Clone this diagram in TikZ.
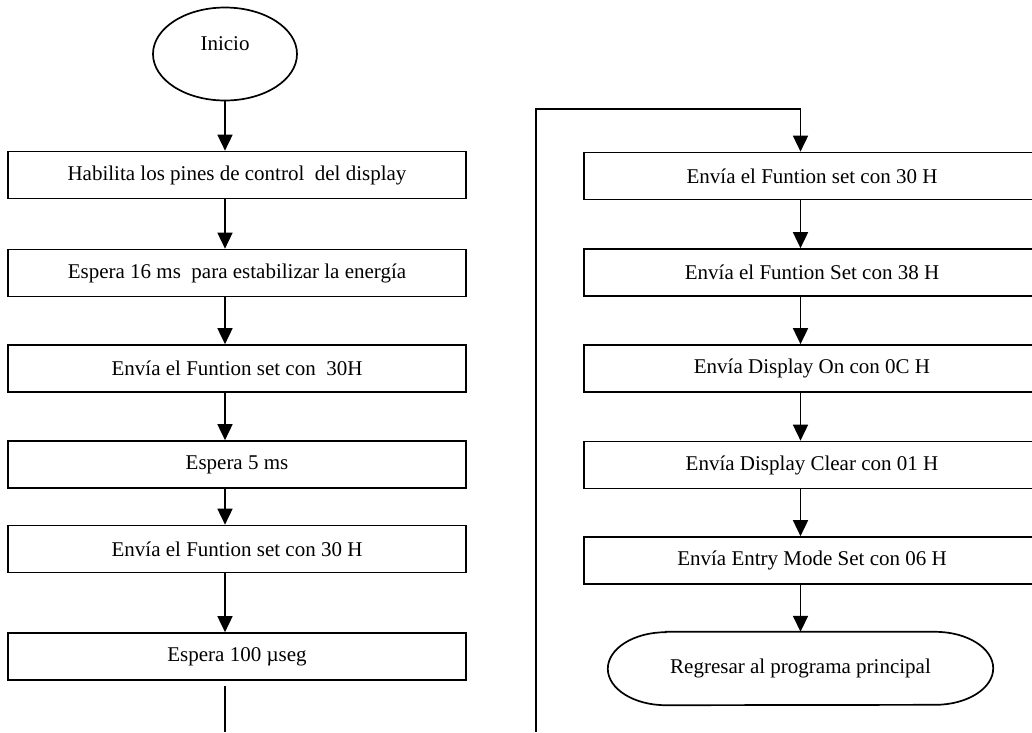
\documentclass[tikz,border=0pt]{standalone}
\usepackage{fontspec}
\setmainfont{Liberation Serif}
\usetikzlibrary{arrows.meta,shapes.geometric}
\begin{document}
\begin{tikzpicture}[x=1pt,y=-1pt,
  txt/.style={font=\fontsize{21}{25}\selectfont},
  stepbox/.style={draw, line width=1.7pt, minimum width=458pt, minimum height=47pt, inner sep=0pt, txt},
  rbox/.style={stepbox, minimum width=456pt},
  arr/.style={-{Triangle[width=15pt,length=16pt]}, line width=1.7pt},
  ln/.style={line width=1.7pt}]
\useasboundingbox (0,0) rectangle (1032,732);

\node[ellipse, draw, line width=1.7pt, minimum width=144pt, minimum height=93pt, inner sep=0pt, text height=14pt, text depth=22pt, txt] (st) at (225,54) {Inicio};

\node[stepbox] (b1) at (237,175) {Habilita los pines de control\ \ del display};
\node[stepbox] (b2) at (237,273) {Espera 16 ms\ \ para estabilizar la energía};
\node[stepbox] (b3) at (237,368.5) {Envía el Funtion set con\ \ 30H};
\node[stepbox] (b4) at (237,464.5) {Espera 5 ms};
\node[stepbox] (b5) at (237,549) {Envía el Funtion set con 30 H};
\node[stepbox] (b6) at (237,656.5) {Espera 100 µseg};

\node[rbox] (r1) at (812,176) {Envía el Funtion set con 30 H};
\node[rbox] (r2) at (812,272.5) {Envía el Funtion Set con 38 H};
\node[rbox] (r3) at (812,368.5) {Envía Display On con 0C H};
\node[rbox] (r4) at (812,465) {Envía Display Clear con 01 H};
\node[rbox] (r5) at (812,560.5) {Envía Entry Mode Set con 06 H};
\node[minimum width=385pt, minimum height=73pt, inner sep=0pt, txt] (fin) at (800.5,668.5) {Regresar al programa principal};
\draw[ln] ([xshift=58pt]fin.north west) -- ([xshift=-58pt]fin.north east)
  arc[start angle=90, end angle=-90, x radius=58pt, y radius=36.5pt]
  -- ([xshift=58pt]fin.south west)
  arc[start angle=270, end angle=90, x radius=58pt, y radius=36.5pt] -- cycle;

% left column connectors
\draw[arr] (st.south) -- (st.south |- b1.north);
\draw[arr] (b1.south -| st.south) -- (b2.north -| st.south);
\draw[arr] (b2.south -| st.south) -- (b3.north -| st.south);
\draw[arr] (b3.south -| st.south) -- (b4.north -| st.south);
\draw[arr] (b4.south -| st.south) -- (b5.north -| st.south);
\draw[arr] (b5.south -| st.south) -- (b6.north -| st.south);
\coordinate (lbe) at (225,732);
\draw[ln] ([yshift=-5pt]b6.south -| st.south) -- (lbe);

% right column connectors
\coordinate (lb) at (536,732);
\coordinate (lt) at (536,109);
\draw[arr] (lb) -- (lt) -- (lt -| fin.north) -- (r1.north -| fin.north);
\draw[arr] (r1.south -| fin.north) -- (r2.north -| fin.north);
\draw[arr] (r2.south -| fin.north) -- (r3.north -| fin.north);
\draw[arr] (r3.south -| fin.north) -- (r4.north -| fin.north);
\draw[arr] (r4.south -| fin.north) -- (r5.north -| fin.north);
\draw[arr] (r5.south -| fin.north) -- (fin.north);
\end{tikzpicture}
\end{document}
